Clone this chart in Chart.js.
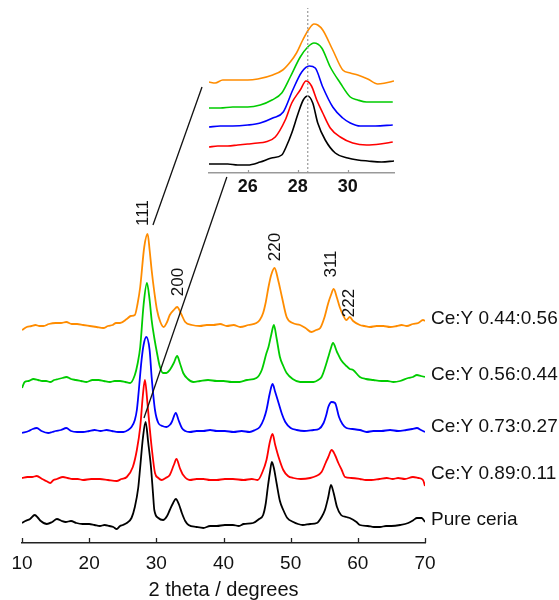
<!DOCTYPE html>
<html>
<head>
<meta charset="utf-8">
<script src="https://cdn.jsdelivr.net/npm/chart.js@4.4.0/dist/chart.umd.min.js"></script>
<style>
  html, body { margin: 0; padding: 0; background: #fff; }
  #wrap { position: relative; width: 559px; height: 600px; }
  #main, #inset { position: absolute; left: 0; top: 0; }
</style>
</head>
<body>
<div id="wrap">
  <canvas id="main" width="559" height="600"></canvas>
  <canvas id="inset" width="559" height="200"></canvas>
</div>
<script>
// XRD patterns, stacked. each series is [2theta, intensity (a.u.)]
const seriesNames = ['Pure ceria', 'Ce:Y 0.89:0.11', 'Ce:Y 0.73:0.27', 'Ce:Y 0.56:0.44', 'Ce:Y 0.44:0.56'];
const seriesColors = ['#000000', '#ff0000', '#0000ff', '#00cc00', '#ff8c00'];
const offsets = [0, 46, 93, 145, 201];

const pureCeria = [[10.0,20],[10.5,22],[11.2,24],[11.9,28],[12.4,25],[12.8,22],[13.7,19],[14.5,21],[15.2,24],[15.9,22],[16.5,21],[17.3,22],[18.1,20],[19.0,19],[20.0,19],[20.8,18],[21.6,17],[22.3,18],[23.0,17],[23.6,16],[24.1,14],[24.6,17],[25.0,18],[25.6,20],[26.3,25],[26.8,36],[27.3,55],[27.6,76],[28.0,105],[28.4,121],[28.8,100],[29.2,76],[29.5,50],[29.7,33],[30.3,25],[31.0,23],[31.6,27],[32.0,33],[32.5,40],[32.9,44],[33.4,38],[33.8,30],[34.3,22],[34.8,18],[36.0,16],[37.0,15],[38.0,17],[39.0,17],[40.2,18],[41.4,18],[42.3,17],[43.0,19],[44.4,20],[45.3,24],[45.9,28],[46.3,40],[46.6,56],[46.9,70],[47.2,81],[47.5,75],[47.9,60],[48.4,42],[48.9,33],[49.5,25],[50.4,21],[51.1,19],[51.8,18],[52.9,19],[53.9,20],[54.6,26],[55.1,33],[55.6,46],[56.0,58],[56.4,50],[56.9,36],[57.5,28],[58.3,26],[58.8,25],[59.8,21],[60.3,18],[61.5,17],[62.4,16],[63.3,16],[64.2,17],[65.0,17],[66.3,18],[67.5,20],[68.3,23],[68.8,25],[69.5,25],[70.0,21]];

const ceY089 = [[10.0,19],[10.8,20],[11.5,20],[12.2,21],[13.0,18],[13.6,16],[14.2,14],[14.7,17],[15.2,18],[16.1,20],[16.8,19],[17.5,18],[18.3,18],[19.1,17],[20.3,18],[21.6,18],[22.8,17],[24.1,16],[24.8,18],[25.6,20],[26.5,30],[27.1,47],[27.6,70],[28.0,102],[28.3,117],[28.7,92],[29.0,70],[29.3,50],[29.8,24],[30.3,19],[30.8,17],[31.4,19],[32.0,22],[32.6,32],[33.0,38],[33.5,29],[34.0,22],[35.0,17],[36.0,18],[37.0,18],[38.0,17],[39.0,17],[40.2,18],[41.4,18],[43.0,17],[44.2,18],[45.1,17],[45.8,25],[46.4,37],[46.9,55],[47.3,63],[47.7,52],[48.2,40],[48.9,27],[49.6,21],[50.4,19],[51.5,18],[52.9,19],[53.8,21],[54.6,25],[55.2,34],[55.6,40],[56.1,47],[56.6,42],[57.1,34],[57.6,27],[58.1,20],[59.0,19],[60.3,18],[61.2,17],[62.0,17],[63.2,18],[64.3,19],[65.2,18],[66.0,19],[67.0,18],[68.2,20],[69.0,19],[69.7,17],[70.0,11]];

const ceY073 = [[10.0,17],[11.0,19],[11.6,21],[12.2,22],[12.9,19],[13.9,17],[14.5,18],[15.0,19],[15.8,20],[16.6,22],[17.3,19],[18.2,18],[19.1,18],[20.0,19],[20.8,20],[21.7,19],[22.6,20],[23.4,19],[24.3,18],[25.1,18],[25.8,20],[26.3,23],[26.8,30],[27.1,40],[27.3,53],[27.8,90],[28.1,105],[28.5,113],[29.0,100],[29.3,73],[29.8,40],[30.3,27],[30.9,24],[31.5,23],[32.0,25],[32.3,28],[32.9,37],[33.3,30],[33.8,22],[34.3,19],[35.0,18],[36.0,19],[37.0,19],[38.0,20],[39.0,19],[40.2,19],[41.5,18],[42.7,19],[43.9,18],[44.7,20],[45.4,23],[46.0,31],[46.4,40],[46.9,57],[47.3,66],[47.7,58],[48.2,47],[48.7,36],[49.2,28],[50.0,22],[50.9,20],[52.0,19],[53.4,20],[54.2,21],[54.9,27],[55.3,35],[55.6,43],[56.1,48],[56.6,47],[57.2,33],[57.7,26],[58.3,22],[59.2,21],[60.3,20],[61.3,18],[62.3,19],[63.5,19],[64.8,20],[66.0,19],[67.2,20],[68.1,21],[68.8,22],[69.4,20],[70.0,18]];

const ceY056 = [[10.0,10],[10.4,16],[11.0,17],[11.7,19],[12.4,18],[13.0,17],[13.6,17],[14.2,16],[14.8,18],[15.4,19],[16.0,20],[16.6,21],[17.3,19],[18.0,18],[18.8,17],[19.6,16],[20.5,18],[21.4,18],[22.2,17],[23.1,16],[23.8,17],[24.6,17],[25.4,16],[26.1,15],[26.8,23],[27.2,34],[27.6,51],[28.1,93],[28.6,115],[29.0,98],[29.3,78],[29.7,60],[30.1,45],[30.5,32],[31.0,25],[31.5,25],[32.0,28],[32.6,35],[33.1,42],[33.5,35],[34.0,25],[34.7,19],[35.5,16],[36.5,17],[37.7,18],[39.0,17],[40.0,17],[41.2,16],[42.4,16],[43.5,18],[44.9,20],[45.7,28],[46.4,45],[46.7,51],[47.1,63],[47.5,73],[47.9,60],[48.4,41],[48.9,32],[49.4,25],[50.3,19],[51.4,16],[52.4,16],[53.4,16],[54.1,18],[54.6,21],[55.1,30],[55.6,41],[56.0,50],[56.3,55],[56.9,46],[57.5,38],[58.3,32],[58.8,29],[59.3,28],[60.3,21],[61.2,19],[62.3,18],[63.5,17],[64.4,17],[65.3,16],[66.3,17],[67.5,20],[68.2,21],[68.8,23],[69.4,22],[70.0,21]];

const ceY044 = [[10.0,12],[10.7,15],[11.4,16],[12.0,17],[12.6,16],[13.2,16],[14.0,18],[15.0,19],[15.8,19],[16.6,20],[17.4,18],[18.2,18],[19.1,17],[20.1,16],[21.1,15],[22.1,14],[22.8,16],[23.5,17],[24.0,19],[24.6,19],[25.6,23],[26.2,26],[26.8,27],[27.2,38],[27.6,55],[28.2,95],[28.7,108],[29.0,92],[29.3,72],[29.7,50],[30.1,32],[30.6,20],[31.1,15],[31.6,20],[32.0,27],[32.6,32],[33.1,35],[33.7,28],[34.3,20],[35.3,17],[36.5,16],[37.5,17],[38.5,17],[39.5,18],[40.5,16],[41.5,17],[42.5,15],[43.7,17],[44.9,19],[45.4,22],[45.9,29],[46.3,40],[46.7,55],[47.1,67],[47.6,74],[48.1,63],[48.7,45],[49.4,25],[50.3,19],[51.4,17],[52.2,14],[53.1,10],[53.8,12],[54.4,14],[55.0,24],[55.6,39],[56.0,47],[56.4,53],[56.9,44],[57.3,35],[57.8,27],[58.3,22],[58.8,25],[59.3,21],[60.3,17],[61.0,16],[61.8,15],[62.8,16],[63.8,16],[64.8,15],[65.8,16],[66.5,17],[67.3,16],[68.2,18],[69.0,19],[69.7,22],[70.0,21]];

const mainSeries = [pureCeria, ceY089, ceY073, ceY056, ceY044];
const mainTicks = [10, 20, 30, 40, 50, 60, 70];

// reflection labels
const peakNames = ['111', '200', '220', '311', '222'];
const peakX = [28.1, 33.2, 47.7, 56.1, 58.8];
const peakY = [330, 261, 296, 279, 240];

// zoom lines from the 111 peak up to the inset
const zoomLineA = [[36.8, 456], [29.5, 318]];
const zoomLineB = [[40.5, 366], [28.16, 125]];

// inset: 111 peak close up
const insetOffsets = [0, 17, 36, 55, 82];
const insPure = [[24.45,9],[24.8,9],[25.2,9],[25.6,8],[26.0,8],[26.5,11],[26.95,15],[27.36,18],[27.55,27],[27.76,40],[28.02,60],[28.22,73],[28.4,77],[28.6,70],[28.8,50],[29.1,33],[29.5,20],[30.0,15],[30.4,13],[30.8,12],[31.35,11],[31.85,12]];
const ins089 = [[24.45,9],[24.8,10],[25.2,10],[25.6,11],[26.0,12],[26.4,13],[26.7,14],[27.1,19],[27.5,36],[27.76,53],[28.1,66],[28.33,75],[28.55,70],[28.76,56],[29.0,43],[29.3,28],[29.7,19],[30.2,13],[30.75,11],[31.3,12],[31.8,14]];
const ins073 = [[24.45,10],[24.9,11],[25.4,11],[26.0,12],[26.5,14],[27.0,19],[27.42,25],[27.8,47],[28.16,65],[28.46,71],[28.7,69],[29.0,50],[29.4,30],[29.8,19],[30.1,14],[30.5,11],[31.1,11],[31.8,12]];
const ins056 = [[24.45,10],[24.9,10],[25.4,11],[26.0,11],[26.5,13],[26.97,18],[27.36,25],[27.7,41],[28.1,61],[28.4,71],[28.65,75],[28.96,70],[29.3,51],[29.7,35],[30.1,21],[30.4,18],[30.75,16],[31.3,16],[31.8,16]];
const ins044 = [[24.45,9],[24.7,8],[25.0,11],[25.5,11],[26.0,11],[26.4,12],[27.0,16],[27.4,21],[27.7,29],[27.95,38],[28.2,51],[28.45,62],[28.65,67],[28.8,66],[29.0,61],[29.4,41],[29.8,21],[30.1,18],[30.4,16],[30.8,12],[31.2,7],[31.5,8],[31.85,10]];
const insetSeries = [insPure, ins089, ins073, ins056, ins044];
const insetTicks = [26, 28, 30];
const refPeak = 28.4; // dotted line, pure ceria 111

const fontFam = '"Liberation Sans", Arial, sans-serif';

// ticks pointing up into the plot, drawn from the library's x scale
const inwardTicks = {
	id: 'inwardTicks',
	afterDraw(chart, args, opts) {
		const xs = chart.scales.x;
		const ctx = chart.ctx;
		ctx.save();
		ctx.strokeStyle = opts.color;
		ctx.lineWidth = opts.width;
		xs.ticks.forEach(t => {
			const px = Math.round(xs.getPixelForValue(t.value)) + 0.5;
			ctx.beginPath();
			ctx.moveTo(px, xs.top);
			ctx.lineTo(px, xs.top - opts.length);
			ctx.stroke();
		});
		ctx.restore();
	}
};

// peak indices (rotated) and sample names
const textLabels = {
	id: 'textLabels',
	afterDatasetsDraw(chart) {
		const {ctx, scales: {x, y}} = chart;
		ctx.save();
		ctx.fillStyle = '#111';
		ctx.font = '17px ' + fontFam;
		ctx.textAlign = 'center';
		ctx.textBaseline = 'middle';
		peakNames.forEach((name, i) => {
			ctx.save();
			ctx.translate(x.getPixelForValue(peakX[i]), y.getPixelForValue(peakY[i]));
			ctx.rotate(-Math.PI / 2);
			ctx.fillText(name, 0, 0);
			ctx.restore();
		});
		ctx.font = '19px ' + fontFam;
		ctx.textAlign = 'left';
		seriesNames.forEach((name, i) => {
			ctx.fillText(name, x.right + 6, y.getPixelForValue(offsets[i] + 23));
		});
		ctx.restore();
	}
};

function toPoints(pairs, off) {
	return pairs.map(([a, b]) => ({x: a, y: b + off}));
}

function lineSet(pairs, color, width) {
	return {
		data: toPoints(pairs, 0),
		borderColor: color,
		borderWidth: width,
		pointRadius: 0,
		fill: false
	};
}

// main chart datasets (first in list is drawn on top)
let mainSets = [lineSet(zoomLineA, '#111', 1.3), lineSet(zoomLineB, '#111', 1.3)];
for (let i = mainSeries.length - 1; i >= 0; i--) {
	mainSets.push({
		label: seriesNames[i],
		data: toPoints(mainSeries[i], offsets[i]),
		borderColor: seriesColors[i],
		borderWidth: 1.8,
		pointRadius: 0,
		cubicInterpolationMode: 'monotone',
		fill: false
	});
}

new Chart(document.getElementById('main'), {
	type: 'line',
	data: { datasets: mainSets },
	options: {
		responsive: false,
		animation: false,
		layout: { padding: { left: 22, right: 134, top: 10, bottom: 0 } },
		plugins: {
			legend: { display: false },
			tooltip: { enabled: false },
			inwardTicks: { color: '#222', width: 1.3, length: 5 }
		},
		scales: {
			x: {
				type: 'linear', min: 10, max: 70,
				afterFit: (s) => { s.height = 57; },
				afterBuildTicks: (s) => { s.ticks = mainTicks.map(v => ({value: v})); },
				grid: { display: false, drawTicks: false },
				border: { display: true, color: '#222', width: 1.5 },
				ticks: { color: '#111', padding: 9, font: { family: fontFam, size: 19 } },
				title: { display: true, text: '2 theta / degrees', color: '#111', padding: { top: 0, bottom: -2 }, font: { family: fontFam, size: 20 } }
			},
			y: { display: false, min: 0, max: 533 }
		}
	},
	plugins: [inwardTicks, textLabels]
});

// inset chart
let insetSets = [{
	data: [{x: refPeak, y: 0}, {x: refPeak, y: 165}],
	borderColor: '#999',
	borderWidth: 1.2,
	borderDash: [2, 2],
	pointRadius: 0
}];
for (let i = insetSeries.length - 1; i >= 0; i--) {
	insetSets.push({
		data: toPoints(insetSeries[i], insetOffsets[i]),
		borderColor: seriesColors[i],
		borderWidth: 1.6,
		pointRadius: 0,
		cubicInterpolationMode: 'monotone',
		fill: false
	});
}

new Chart(document.getElementById('inset'), {
	type: 'line',
	data: { datasets: insetSets },
	options: {
		responsive: false,
		animation: false,
		layout: { padding: { left: 209, right: 165, top: 5, bottom: 0 } },
		plugins: {
			legend: { display: false },
			tooltip: { enabled: false },
			inwardTicks: { color: '#999', width: 1.2, length: 3 }
		},
		scales: {
			x: {
				type: 'linear', min: 24.45, max: 31.85,
				afterFit: (s) => { s.height = 27; },
				afterBuildTicks: (s) => { s.ticks = insetTicks.map(v => ({value: v})); },
				grid: { display: false, drawTicks: false },
				border: { display: true, color: '#999', width: 1.5 },
				ticks: { color: '#111', padding: 3, font: { family: fontFam, size: 18, weight: 'bold' } }
			},
			y: { display: false, min: 0, max: 168 }
		}
	},
	plugins: [inwardTicks]
});
</script>
</body>
</html>
